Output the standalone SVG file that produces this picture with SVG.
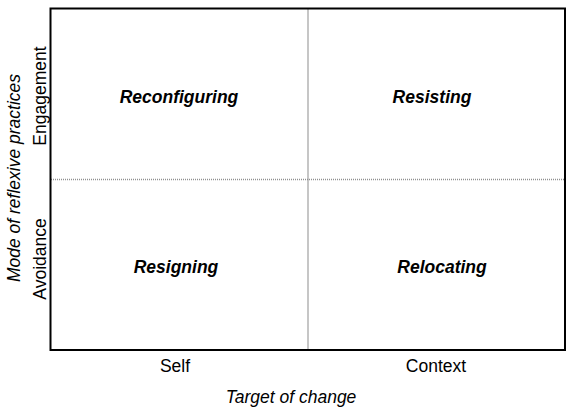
<svg xmlns="http://www.w3.org/2000/svg" width="570" height="408" viewBox="0 0 570 408">
<style>
text{font-family:"Liberation Sans",Arial,sans-serif;fill:#000;font-size:17.5px}
.q{font-weight:bold;font-style:italic;text-anchor:middle}
.ax{text-anchor:middle}
.it{font-style:italic;text-anchor:middle}
</style>
<rect width="570" height="408" fill="#fff"/>
<g id="grid">
<line x1="308" y1="9" x2="308" y2="349" stroke="#a0a0a0" stroke-width="1.2"/>
<line x1="51" y1="179.5" x2="564" y2="179.5" stroke="#909090" stroke-width="1.5" stroke-dasharray="1,1"/>
<rect x="50.5" y="8.5" width="514.5" height="341.5" fill="none" stroke="#000" stroke-width="2"/>
</g>
<g id="reconfiguring"><text class="q" x="179" y="103">Reconfiguring</text></g>
<g id="resisting"><text class="q" x="432" y="103">Resisting</text></g>
<g id="resigning"><text class="q" x="176" y="273">Resigning</text></g>
<g id="relocating"><text class="q" x="442" y="273">Relocating</text></g>
<g id="axes">
<text class="ax" x="175" y="372">Self</text>
<text class="ax" x="436" y="372">Context</text>
<text class="it" x="291" y="403">Target of change</text>
<text class="ax" transform="translate(46,96) rotate(-90)">Engagement</text>
<text class="ax" transform="translate(46,259) rotate(-90)">Avoidance</text>
<text class="it" transform="translate(20,178) rotate(-90)">Mode of reflexive practices</text>
</g>
</svg>
